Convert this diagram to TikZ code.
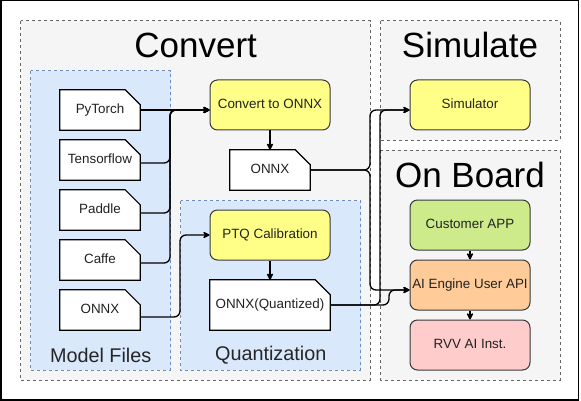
\documentclass[tikz,border=0pt]{standalone}
\usepackage{fontspec}
\setmainfont{Liberation Sans}
\usetikzlibrary{arrows.meta}
\pgfdeclarelayer{bg}
\pgfsetlayers{bg,main}
\definecolor{grpfill}{HTML}{F5F5F5}
\definecolor{grpline}{HTML}{666666}
\definecolor{bluefill}{HTML}{DAE8FC}
\definecolor{blueline}{HTML}{6C8EBF}
\definecolor{yelfill}{HTML}{FFFF88}
\definecolor{boxline}{HTML}{36393D}
\definecolor{greenfill}{HTML}{CDEB8B}
\definecolor{orangefill}{HTML}{FFCC99}
\definecolor{pinkfill}{HTML}{FFCCCC}
\definecolor{txt}{HTML}{222222}
\tikzset{
  grp/.style={draw=grpline, fill=grpfill, line width=0.8pt, dash pattern=on 3pt off 3pt},
  bgrp/.style={draw=blueline, fill=bluefill, line width=0.8pt, dash pattern=on 3pt off 3pt},
  title/.style={font=\fontsize{35}{40}\selectfont, text=black, inner sep=0pt},
  subtitle/.style={font=\fontsize{19.8}{23}\selectfont, text=black!85, inner sep=0pt},
  doc/.style={minimum width=80pt, minimum height=40pt, inner sep=0pt, font=\fontsize{13.4}{16}\selectfont, text=txt, text height=0.72em, text depth=0pt},
  docline/.style={draw=black, fill=white, line width=1.2pt},
  box/.style={draw=boxline, rounded corners=7.5pt, line width=1pt, minimum width=120pt, minimum height=50pt, inner sep=0pt, font=\fontsize{13.4}{16}\selectfont, text=txt, text height=0.72em, text depth=0pt},
  yel/.style={box, fill=yelfill},
  conn/.style={draw=black, line width=1.3pt, rounded corners=6pt, -{Stealth[length=8pt,width=8pt,inset=2.5pt,round]}},
  plain/.style={draw=black, line width=1.3pt, -{Stealth[length=8pt,width=8pt,inset=2.5pt,round]}}
}
\begin{document}
\begin{tikzpicture}[x=1pt,y=-1pt]
\useasboundingbox (0,0) rectangle (581,401);
\draw[line width=1.5pt] (0.75,0.75) rectangle (578.6,400);

% nodes
\node[doc] (pt) at (100,110) {PyTorch};
\node[doc] (tf) at (100,160) {Tensorflow};
\node[doc] (pd) at (100,210) {Paddle};
\node[doc] (cf) at (100,260) {Caffe};
\node[doc] (ox) at (100,310) {ONNX};
\node[doc] (onnx) at (270,170) {ONNX};
\node[doc, minimum width=120pt, minimum height=50pt] (onnxq) at (270,305) {ONNX(Quantized)};
\node[yel] (conv) at (270,105) {Convert to ONNX};
\node[yel] (ptq) at (270,235) {PTQ Calibration};
\node[yel] (sim) at (470,105) {Simulator};
\node[box, fill=greenfill] (app) at (470,225) {Customer APP};
\node[box, fill=orangefill] (api) at (470,285) {AI Engine User API};
\node[box, fill=pinkfill] (rvv) at (470,345) {RVV AI Inst.};

\node[title] (tconv) at (195.7,45) {Convert};
\node[title] (tsim) at (470,45) {Simulate};
\node[title] (tboard) at (470,175) {On Board};
\node[subtitle] (tmodel) at (100.7,355) {Model Files};
\node[subtitle] (tquant) at (270.7,355) {Quantization};

\begin{pgfonlayer}{bg}
\draw[grp] (20.7,20.7) rectangle (370.7,380);
\draw[grp] (380.7,20.7) rectangle (560,140);
\draw[grp] (380.7,150) rectangle (560,380);
\draw[bgrp] (30.7,70.7) rectangle (170.7,370);
\draw[bgrp] (180.7,200.7) rectangle (360.7,370);
\foreach \n in {pt,tf,pd,cf,ox,onnx,onnxq}
  \draw[docline] (\n.north west) -- ([xshift=-15pt]\n.north east) -- ([yshift=-15pt]\n.north east) -- (\n.south east) -- (\n.south west) -- cycle;
\end{pgfonlayer}

% bus coordinates
\coordinate (busM) at (170,110);
\coordinate (busQ) at (180,235);
\coordinate (busS1) at (370,110);
\coordinate (busA1) at (370,290);
\coordinate (busS2) at (380,110);
\coordinate (busA2) at (389,290);

% connectors
\draw[conn] (pt.east) -- (pt.east -| conv.west);
\draw[conn] ([yshift=-3pt]tf.east) -| (busM) -- (busM -| conv.west);
\draw[conn] ([yshift=-3pt]pd.east) -| (busM) -- (busM -| conv.west);
\draw[conn] ([yshift=-3pt]cf.east) -| (busM) -- (busM -| conv.west);
\draw[conn] ([yshift=-7pt]ox.east) -| (busQ) -- (ptq.west);
\draw[conn] (onnx.east) -| (busS1) -- (busS1 -| sim.west);
\draw[conn] (onnx.east) -| (busA1) -- (busA1 -| api.west);
\draw[conn] (onnxq.east) -| (busS2) -- (busS2 -| sim.west);
\draw[conn] (onnxq.east) -| (busA2) -- (busA2 -| api.west);
\draw[plain] (conv) -- (onnx);
\draw[plain] (ptq) -- (onnxq);
\draw[plain] (app) -- (api);
\draw[plain] (api) -- (rvv);
\end{tikzpicture}
\end{document}
